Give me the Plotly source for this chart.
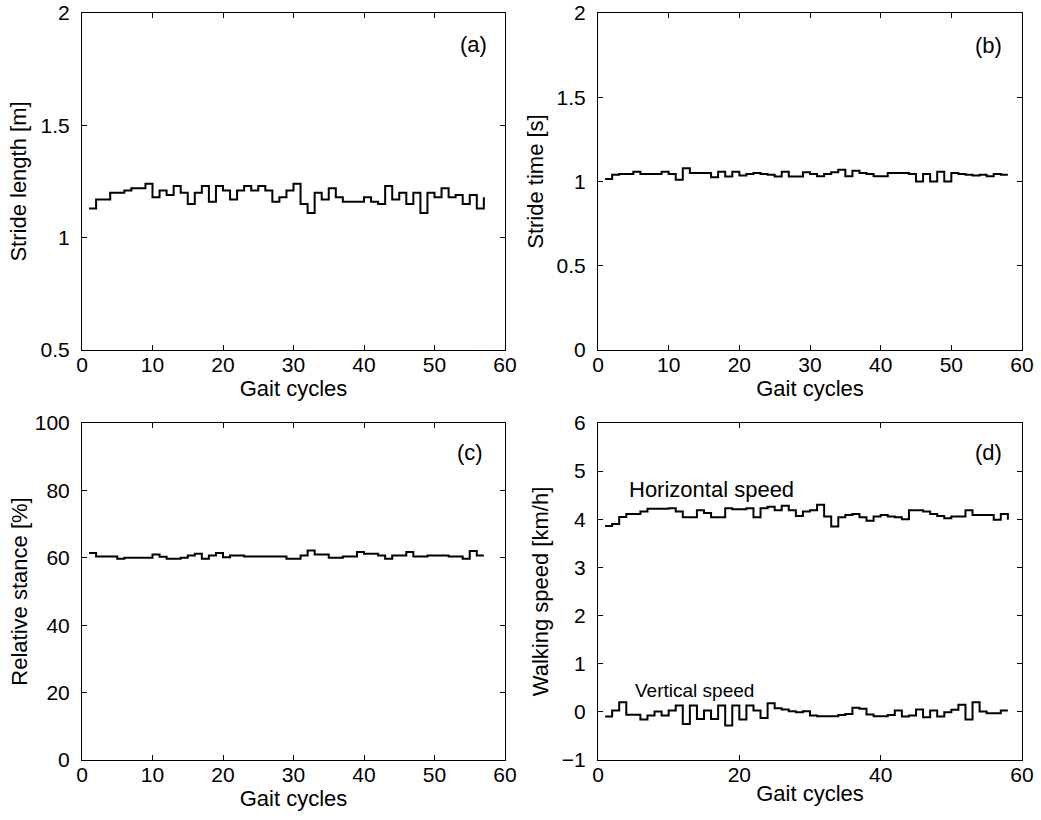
import plotly.graph_objects as go

# ---------------- data ----------------
cycles_a = list(range(1, 58))
stride_length = [1.13, 1.17, 1.17, 1.20, 1.20, 1.21, 1.22, 1.22, 1.24, 1.18,
                 1.21, 1.19, 1.23, 1.20, 1.15, 1.20, 1.23, 1.16, 1.23, 1.21,
                 1.17, 1.21, 1.23, 1.21, 1.23, 1.21, 1.16, 1.18, 1.21, 1.24,
                 1.15, 1.11, 1.20, 1.17, 1.22, 1.18, 1.16, 1.16, 1.16, 1.18,
                 1.16, 1.15, 1.23, 1.17, 1.20, 1.15, 1.20, 1.11, 1.20, 1.18,
                 1.22, 1.18, 1.19, 1.15, 1.19, 1.13, 1.18]

cycles_b = list(range(1, 59))
stride_time = [1.015, 1.04, 1.045, 1.045, 1.058, 1.045, 1.045, 1.045, 1.058, 1.045,
               1.01, 1.078, 1.05, 1.05, 1.05, 1.025, 1.058, 1.03, 1.058, 1.035,
               1.045, 1.05, 1.045, 1.04, 1.03, 1.058, 1.03, 1.03, 1.055, 1.045,
               1.031, 1.045, 1.055, 1.07, 1.031, 1.064, 1.051, 1.045, 1.031, 1.031,
               1.051, 1.051, 1.051, 1.045, 1.0, 1.045, 1.0, 1.058, 1.0, 1.051,
               1.045, 1.04, 1.035, 1.04, 1.031, 1.045, 1.04, 1.04]

cycles_c = list(range(1, 58))
relative_stance = [61.4, 60.4, 60.4, 60.4, 59.7, 60.0, 60.0, 60.0, 60.0, 61.0,
                   60.3, 59.7, 59.7, 60.0, 60.7, 61.2, 59.7, 60.7, 61.4, 60.2,
                   60.7, 60.7, 60.4, 60.4, 60.4, 60.4, 60.4, 60.4, 59.7, 59.7,
                   60.7, 62.2, 61.0, 61.0, 60.0, 60.0, 60.4, 60.4, 61.7, 61.2,
                   61.2, 60.7, 59.7, 60.7, 60.7, 61.7, 60.4, 60.4, 60.7, 60.7,
                   60.7, 60.4, 60.4, 59.7, 62.0, 60.7, 60.7]

cycles_d = list(range(1, 59))
horizontal_speed = [3.86, 3.90, 4.05, 4.11, 4.11, 4.16, 4.22, 4.22, 4.22, 4.23,
                    4.16, 4.04, 4.04, 4.19, 4.13, 4.04, 4.04, 4.23, 4.21, 4.21,
                    4.23, 4.04, 4.23, 4.26, 4.19, 4.28, 4.19, 4.07, 4.16, 4.19,
                    4.30, 4.06, 3.85, 4.04, 4.09, 4.11, 4.04, 3.97, 4.06, 4.09,
                    4.06, 4.04, 4.00, 4.19, 4.19, 4.16, 4.11, 4.07, 4.02, 4.06,
                    4.06, 4.19, 4.09, 4.09, 4.09, 3.99, 4.11, 3.99]
vertical_speed = [-0.097, 0.028, 0.20, -0.06, -0.06, -0.16, -0.076, 0.007, -0.076, 0.028,
                  0.132, -0.25, 0.132, -0.146, 0.028, -0.146, 0.132, -0.285, 0.132, -0.16,
                  0.132, 0.028, -0.13, 0.18, 0.076, 0.049, 0.014, -0.007, 0.014, -0.076,
                  -0.09, -0.09, -0.09, -0.063, -0.042, 0.083, 0.063, -0.056, -0.09, -0.09,
                  -0.063, 0.028, -0.097, -0.076, 0.049, -0.11, 0.028, -0.097, -0.007, 0.042,
                  0.146, -0.16, 0.20, 0.007, -0.028, -0.028, 0.028, 0.028]

x_range = [0, 60]
y_titles = ["Stride length [m]", "Stride time [s]", "Relative stance [%]", "Walking speed [km/h]"]
x_title = "Gait cycles"
panel_labels = ["(a)", "(b)", "(c)", "(d)"]

FONT = "Liberation Sans, Arial, Helvetica, sans-serif"
FS = 21      # tick labels
FT = 22      # titles / annotations
LINE = dict(color="black", width=2, shape="hv")

fig = go.Figure()
fig.add_trace(go.Scatter(x=cycles_a, y=stride_length, mode="lines", line=LINE, xaxis="x", yaxis="y"))
fig.add_trace(go.Scatter(x=cycles_b, y=stride_time, mode="lines", line=LINE, xaxis="x2", yaxis="y2"))
fig.add_trace(go.Scatter(x=cycles_c, y=relative_stance, mode="lines", line=LINE, xaxis="x3", yaxis="y3"))
fig.add_trace(go.Scatter(x=cycles_d, y=horizontal_speed, mode="lines", line=LINE, xaxis="x4", yaxis="y4"))
fig.add_trace(go.Scatter(x=cycles_d, y=vertical_speed, mode="lines", line=LINE, xaxis="x4", yaxis="y4"))

W, H = 1041, 820
xdom_l = [82 / W, 505 / W]
xdom_r = [598 / W, 1022 / W]
ydom_t = [1 - 350 / H, 1 - 13 / H]
ydom_b = [1 - 760 / H, 1 - 423 / H]

common = dict(showline=True, linecolor="black", linewidth=1, mirror="ticks",
              ticks="inside", ticklen=5, tickwidth=1, tickcolor="black",
              showgrid=False, zeroline=False, automargin=False,
              ticklabeloverflow="allow",
              tickfont=dict(family=FONT, size=FS, color="black"))

def xax(dom, anchor, dtick):
    return dict(domain=dom, anchor=anchor, range=x_range, dtick=dtick, tick0=0,
                ticklabelstandoff=-4,
                title=dict(text=x_title, font=dict(family=FONT, size=FT, color="black"), standoff=0),
                **common)

def yax(dom, anchor, rng, dtick, title, standoff):
    return dict(domain=dom, anchor=anchor, range=rng, dtick=dtick, tick0=rng[0],
                ticklabelstandoff=7,
                title=dict(text=title, font=dict(family=FONT, size=FT, color="black"), standoff=standoff),
                **common)

fig.update_layout(
    width=W, height=H,
    margin=dict(l=0, r=0, t=0, b=0, pad=0),
    paper_bgcolor="white", plot_bgcolor="white",
    showlegend=False,
    xaxis=xax(xdom_l, "y", 10),
    yaxis=yax(ydom_t, "x", [0.5, 2], 0.5, y_titles[0], 7),
    xaxis2=xax(xdom_r, "y2", 10),
    yaxis2=yax(ydom_t, "x2", [0, 2], 0.5, y_titles[1], 6),
    xaxis3=xax(xdom_l, "y3", 10),
    yaxis3=yax(ydom_b, "x3", [0, 100], 20, y_titles[2], 1),
    xaxis4=xax(xdom_r, "y4", 20),
    yaxis4=yax(ydom_b, "x4", [-1, 6], 1, y_titles[3], 7),
)

ann_font = dict(family=FONT, size=FT, color="black")
label_pos = [("x", "y", 55.5, 1.86), ("x2", "y2", 55.2, 1.81),
             ("x3", "y3", 55.0, 91.1), ("x4", "y4", 55.2, 5.38)]
for lab, (xr, yr, xv, yv) in zip(panel_labels, label_pos):
    fig.add_annotation(text=lab, x=xv, y=yv, xref=xr, yref=yr, showarrow=False, font=ann_font)

fig.add_annotation(text="Horizontal speed", x=16.1, y=4.61, xref="x4", yref="y4",
                   showarrow=False, font=ann_font)
fig.add_annotation(text="Vertical speed", x=13.7, y=0.45, xref="x4", yref="y4",
                   showarrow=False, font=dict(family=FONT, size=19, color="black"))

# remove the default 8px page margin so the figure fills the window exactly
fig.write_html("out.html",
               config={"displayModeBar": False},
               post_script="document.body.style.margin='0';document.body.style.overflow='hidden';")
